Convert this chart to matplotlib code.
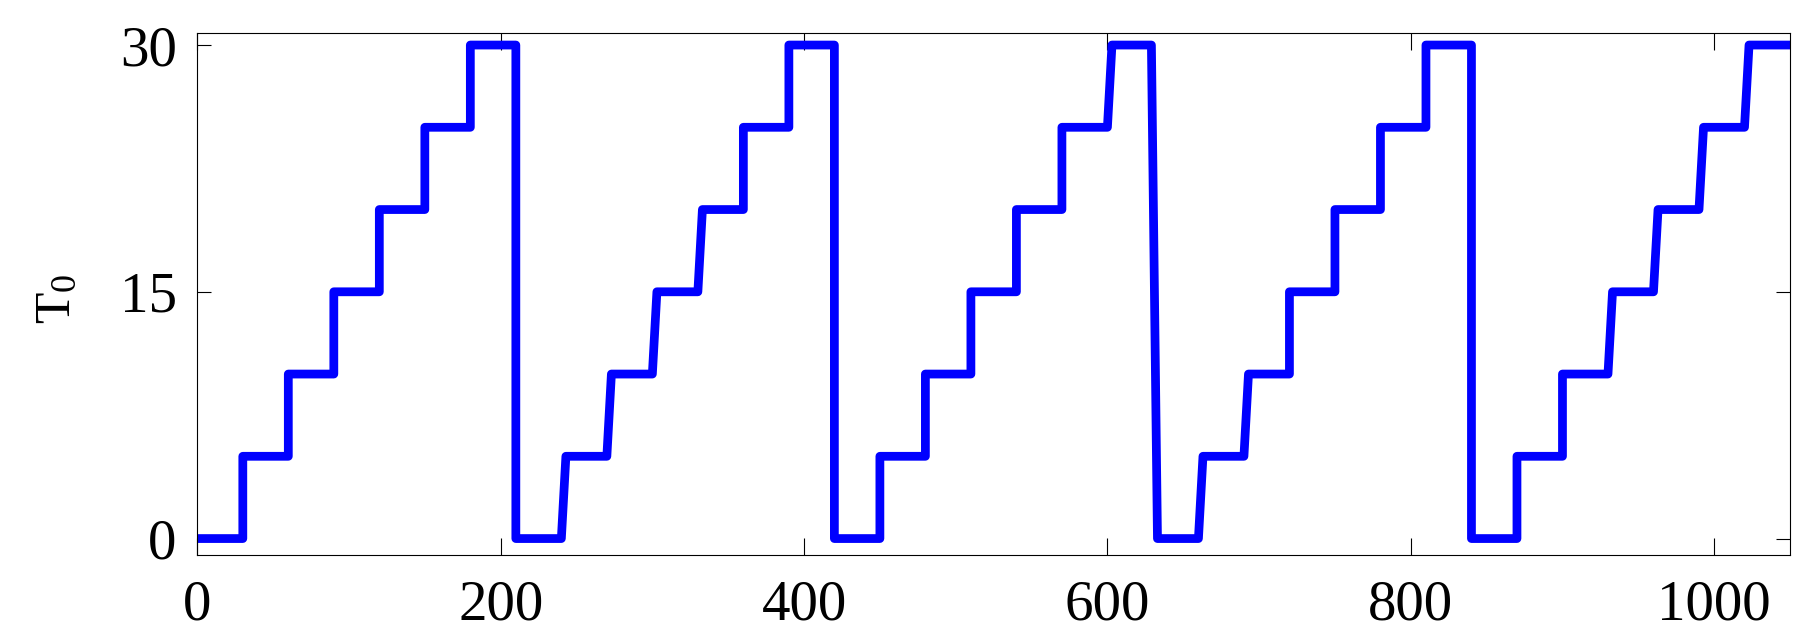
import matplotlib
matplotlib.use('Agg')
import matplotlib.pyplot as plt

plt.rcParams['font.family'] = ['Liberation Serif', 'DejaVu Serif']
plt.rcParams['mathtext.fontset'] = 'custom'
plt.rcParams['mathtext.rm'] = 'Liberation Serif'
plt.rcParams['mathtext.it'] = 'Liberation Serif'

# time points and T0 values (vertices of the stepped line)
t = [0, 30, 30, 60, 60, 90, 90, 120, 120, 150, 150, 180, 180, 210, 210,
     240, 243, 270, 273, 300, 303, 330, 333, 360, 360, 390, 390, 420, 420,
     450, 450, 480, 480, 510, 510, 540, 540, 570, 570, 600, 603, 629, 633,
     660, 663, 690, 693, 720, 720, 750, 750, 780, 780, 810, 810, 840, 840,
     870, 870, 900, 900, 930, 933, 960, 963, 990, 993, 1020, 1023, 1050]
T0 = [0, 0, 5, 5, 10, 10, 15, 15, 20, 20, 25, 25, 30, 30, 0,
      0, 5, 5, 10, 10, 15, 15, 20, 20, 25, 25, 30, 30, 0,
      0, 5, 5, 10, 10, 15, 15, 20, 20, 25, 25, 30, 30, 0,
      0, 5, 5, 10, 10, 15, 15, 20, 20, 25, 25, 30, 30, 0,
      0, 5, 5, 10, 10, 15, 15, 20, 20, 25, 25, 30, 30]

xticks = [0, 200, 400, 600, 800, 1000]
yticks = [0, 15, 30]

fig = plt.figure(figsize=(18.07, 6.36), dpi=100)
ax = fig.add_axes([197.3 / 1807, 1 - 555 / 636, (1790 - 197.3) / 1807, (555 - 32.7) / 636])

ax.plot(t, T0, color=(0, 0, 1), linewidth=6.3, solid_joinstyle='round', solid_capstyle='butt')

ax.set_xlim(0, 1050)
ax.set_ylim(-1, 30.75)
ax.set_xticks(xticks)
ax.set_yticks(yticks)

ax.tick_params(axis='both', direction='in', top=True, right=True, labelsize=41, width=0.8)
ax.tick_params(axis='x', length=12, pad=18)
ax.tick_params(axis='y', length=10, pad=14.8)
for s in ax.spines.values():
    s.set_linewidth(0.8)

ax.set_ylabel('T$_0$', fontsize=37)
ax.yaxis.set_label_coords(-0.073, 0.49)

fig.savefig('out.png', dpi=100)
